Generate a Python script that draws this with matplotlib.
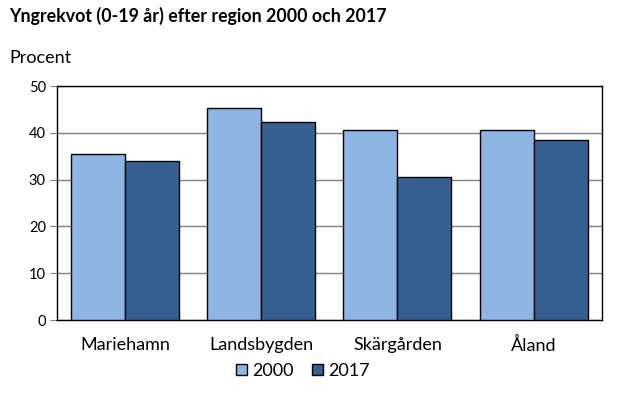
import numpy as np
import matplotlib.pyplot as plt

regions = ['Mariehamn', 'Landsbygden', 'Skärgården', 'Åland']
v2000 = [35.4, 45.4, 40.7, 40.7]
v2017 = [33.9, 42.4, 30.5, 38.4]
yticks = [0, 10, 20, 30, 40, 50]

plt.rcParams['font.family'] = ['Lato', 'DejaVu Sans']

fig = plt.figure(figsize=(6.18, 3.94), dpi=100)
ax = fig.add_axes([57/618, 1-320/394, (601.7-57)/618, (320-86)/394])

x = np.arange(len(regions))
w = 0.397
ax.bar(x - w/2, v2000, w, color='#8EB4E3', edgecolor='black', linewidth=1, label='2000', zorder=3)
ax.bar(x + w/2, v2017, w, color='#376092', edgecolor='black', linewidth=1, label='2017', zorder=3)

ax.set_xlim(-0.5, len(regions) - 0.5)
ax.set_ylim(0, 50)
ax.set_yticks(yticks)
ax.yaxis.grid(True, color='#808080', linewidth=1, zorder=0)
ax.tick_params(axis='y', length=5, color='#808080', labelsize=10.5, pad=3)
ax.set_xticks(x)
ax.set_xticklabels(regions, fontsize=13)
ax.tick_params(axis='x', length=0, pad=12)
for s in ax.spines.values():
    s.set_color('black')
    s.set_linewidth(1)

fig.text(9/618, 1-16/394, 'Yngrekvot (0-19 år) efter region 2000 och 2017', fontsize=12.8,
         fontweight='bold', va='center', ha='left')
fig.text(9/618, 1-58/394, 'Procent', fontsize=13, va='center', ha='left')

fig.legend(loc='center', bbox_to_anchor=(0.49, 1-371/394), ncol=2, frameon=False,
           fontsize=13, handlelength=0.6, handleheight=0.6, handletextpad=0.3, columnspacing=1.0)

fig.savefig('out.png', dpi=100)
